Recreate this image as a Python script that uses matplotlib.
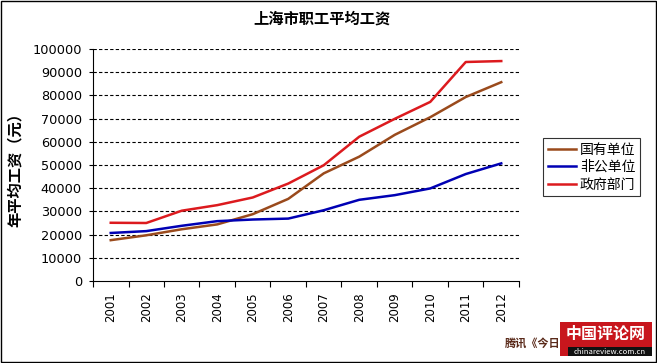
import matplotlib
matplotlib.use('Agg')
import matplotlib.pyplot as plt
from matplotlib.patches import Rectangle

plt.rcParams['font.family'] = ['Noto Sans CJK SC', 'DejaVu Sans']

# 数据
years = ['2001', '2002', '2003', '2004', '2005', '2006',
         '2007', '2008', '2009', '2010', '2011', '2012']
state_owned = [17600, 19700, 22300, 24400, 28800, 35400,
               46400, 53600, 63000, 70600, 79300, 85700]
non_public = [20700, 21500, 23800, 25800, 26500, 26900,
              30500, 35000, 37000, 39900, 46100, 50700]
government = [25100, 25000, 30300, 32700, 36000, 42000,
              49900, 62200, 69900, 77200, 94400, 94800]
series_names = ['国有单位', '非公单位', '政府部门']
y_ticks = list(range(0, 100001, 10000))

fig = plt.figure(figsize=(6.57, 3.63), dpi=100)
ax = fig.add_axes([93 / 657, 1 - 281 / 363, 426 / 657, 232 / 363])

x = list(range(len(years)))
ax.plot(x, state_owned, color='#9a4a1c', lw=1.8, label=series_names[0])
ax.plot(x, non_public, color='#0000b4', lw=1.8, label=series_names[1])
ax.plot(x, government, color='#dc1a1e', lw=1.8, label=series_names[2])

ax.set_xlim(-0.5, len(years) - 0.5)
ax.set_ylim(0, 100000)
ax.set_yticks(y_ticks)
ax.set_yticklabels([str(v) for v in y_ticks], fontsize=9.3, family='DejaVu Sans')
ax.set_xticks(x)
ax.set_xticklabels(years, rotation=90, fontsize=8.5, family='DejaVu Sans')
ax.tick_params(axis='x', length=0, pad=8)
ax.set_xticks([i + 0.5 for i in range(-1, len(years))], minor=True)
ax.tick_params(axis='x', which='minor', length=4, direction='out', width=0.8)
ax.tick_params(axis='y', length=3, direction='out', width=0.8, pad=5)

for v in y_ticks[1:]:
    ax.axhline(v, color='black', lw=0.8, ls=(0, (3, 2)), zorder=0)

ax.spines['top'].set_visible(False)
ax.spines['right'].set_visible(False)
ax.spines['left'].set_linewidth(0.8)
ax.spines['bottom'].set_linewidth(0.8)

fig.text(322 / 657, 1 - 19 / 363, '上海市职工平均工资', ha='center', va='center',
         fontsize=11, fontweight='bold')
fig.text(15 / 657, 1 - 166 / 363, '年平均工资（元）', ha='center', va='center',
         rotation=90, fontsize=11, fontweight='bold')

leg = ax.legend(loc='center left', bbox_to_anchor=(543 / 657, 1 - 167 / 363),
                bbox_transform=fig.transFigure, fontsize=10, frameon=True,
                fancybox=False, handlelength=2.0, handletextpad=0.3,
                borderpad=0.35, labelspacing=0.25, borderaxespad=0)
leg.get_frame().set_edgecolor('black')
leg.get_frame().set_linewidth(0.8)

# 水印
fig.text(505 / 657, 1 - 343 / 363, '腾讯《今日', ha='left', va='center',
         fontsize=8, fontweight='bold', color='#5a2a1a')
fig.patches.append(Rectangle((560 / 657, 1 - 356 / 363), 92 / 657, 34 / 363,
                             transform=fig.transFigure, fc='#c8161d', ec='none'))
fig.patches.append(Rectangle((568 / 657, 1 - 356 / 363), 84 / 657, 9 / 363,
                             transform=fig.transFigure, fc='#111111', ec='none'))
fig.text(606 / 657, 1 - 334 / 363, '中国评论网', ha='center', va='center',
         fontsize=11.5, fontweight='bold', color='white')
fig.text(610 / 657, 1 - 352 / 363, 'chinareview.com.cn', ha='center', va='center',
         fontsize=5.5, color='white')

fig.patches.append(Rectangle((0.001, 0.002), 0.997, 0.995, transform=fig.transFigure,
                             fill=False, ec='black', lw=1))

fig.savefig('out.png', dpi=100)
